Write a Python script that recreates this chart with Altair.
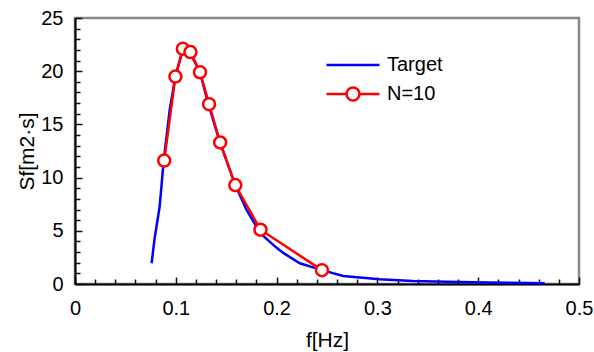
import altair as alt
import pandas as pd

# ---- data ----
target_f = [0.076, 0.079, 0.084, 0.088, 0.094, 0.0996, 0.106, 0.111, 0.117, 0.124,
            0.132, 0.1435, 0.159, 0.170, 0.1835, 0.200, 0.207, 0.223, 0.245, 0.266,
            0.302, 0.335, 0.369, 0.410, 0.450, 0.466]
target_s = [1.95, 4.3, 7.3, 11.6, 16.4, 19.5, 21.7, 22.2, 21.2, 19.9,
            17.0, 13.4, 9.3, 7.0, 4.8, 3.4, 2.9, 1.95, 1.3, 0.75,
            0.44, 0.28, 0.20, 0.15, 0.10, 0.08]

n10_f = [0.0885, 0.0996, 0.107, 0.1145, 0.124, 0.133, 0.144, 0.159, 0.184, 0.245]
n10_s = [11.6, 19.5, 22.1, 21.8, 19.9, 16.9, 13.3, 9.3, 5.1, 1.3]

series_names = ["Target", "N=10"]
series_colors = ["#0000FF", "#FF0000"]

x_major = [0, 0.1, 0.2, 0.3, 0.4, 0.5]
x_minor = [0.02, 0.04, 0.06, 0.08, 0.12, 0.14, 0.16, 0.18, 0.22, 0.24, 0.26, 0.28,
           0.32, 0.34, 0.36, 0.38, 0.42, 0.44, 0.46, 0.48]
y_major = [0, 5, 10, 15, 20, 25]
y_minor = [1, 2, 3, 4, 6, 7, 8, 9, 11, 12, 13, 14, 16, 17, 18, 19, 21, 22, 23, 24]

FONT = "Liberation Sans"

target_df = pd.DataFrame({"f": target_f, "S": target_s, "series": "Target"})
n10_df = pd.DataFrame({"f": n10_f, "S": n10_s, "series": "N=10"})
legend_df = pd.DataFrame({"series": series_names})

xs = alt.Scale(domain=[0, 0.5], nice=False, zero=False)
ys = alt.Scale(domain=[0, 25], nice=False, zero=False)
cs = alt.Scale(domain=series_names, range=series_colors)
shape_paths = [
    "M-4.42,0H4.42",
    "M-4.42,0H-1.08M1.08,0H4.42M1.08,0A1.08,1.08,0,1,1,-1.08,0A1.08,1.08,0,1,1,1.08,0",
]
ss = alt.Scale(domain=series_names, range=shape_paths)

x_axis = alt.Axis(orient="bottom", values=x_major, ticks=False, grid=False,
                  domainColor="black", domainWidth=2, labelFont=FONT,
                  labelFontSize=20, labelColor="black", labelPadding=14,
                  labelFlush=False, labelOverlap=False, format="~g",
                  title="f[Hz]", titleFont=FONT, titleFontSize=21,
                  titleFontWeight="normal", titleColor="black",
                  titleX=252, titleY=56, titleBaseline="middle")
y_axis = alt.Axis(orient="left", values=y_major, ticks=False, grid=False,
                  domainColor="black", domainWidth=2, labelFont=FONT,
                  labelFontSize=20, labelColor="black", labelPadding=12,
                  labelFlush=False, labelOverlap=False, format="~g",
                  title="Sf[m2·s]", titleFont=FONT, titleFontSize=21,
                  titleFontWeight="normal", titleColor="black",
                  titleX=-48, titleY=133, titleAngle=-90, titleBaseline="middle")


def tick_axis(orient, vals, length):
    # inward ticks: an axis shifted into the plot by its own tick length
    return alt.Axis(orient=orient, values=vals, ticks=True, tickSize=length,
                    offset=-length, tickColor="#111111", tickWidth=1.5,
                    domain=False, labels=False, grid=False, title=None)


X = alt.X("f:Q", scale=xs, axis=x_axis)
Y = alt.Y("S:Q", scale=ys, axis=y_axis)

leg = alt.Legend(title=None, orient="none", legendX=268, legendY=37,
                 symbolSize=144, symbolStrokeWidth=2.5, labelFont=FONT,
                 labelFontSize=20, labelColor="black", labelOffset=24,
                 rowPadding=7, padding=0)

color_enc = alt.Color("series:N", scale=cs, legend=leg)

minor_axes = alt.Chart(target_df).mark_point(opacity=0).encode(
    x=alt.X("f:Q", scale=xs, axis=tick_axis("bottom", x_minor, 5)),
    y=alt.Y("S:Q", scale=ys, axis=tick_axis("left", y_minor, 5)))
major_axes = alt.Chart(target_df).mark_point(opacity=0).encode(
    x=alt.X("f:Q", scale=xs, axis=tick_axis("bottom", x_major, 7)),
    y=alt.Y("S:Q", scale=ys, axis=tick_axis("left", y_major, 7)))

target_line = alt.Chart(target_df).mark_line(strokeWidth=2.5).encode(
    x=X, y=Y, color=color_enc)
n10_line = alt.Chart(n10_df).mark_line(strokeWidth=2.5).encode(
    x=X, y=Y, color=color_enc)
n10_pts = alt.Chart(n10_df).mark_point(shape="circle", size=144, strokeWidth=2.5,
                                        filled=False, fill="white", fillOpacity=1,
                                        opacity=1).encode(
    x=X, y=Y, color=color_enc)

legend_layer = alt.Chart(legend_df).mark_point(filled=False, strokeWidth=2.5, opacity=1).encode(
    color=color_enc,
    shape=alt.Shape("series:N", scale=ss, legend=leg),
).transform_filter("false")

main = alt.layer(target_line, n10_line, n10_pts, legend_layer)

chart = alt.layer(
    minor_axes, major_axes, main,
).resolve_axis(x="independent", y="independent").properties(
    width=504, height=266,
    padding={"left": 75, "top": 18, "right": 15, "bottom": 68},
    autosize=alt.AutoSizeParams(type="none"),
    background="white",
).configure_view(stroke="#888888", strokeWidth=2.5)

chart.save("out.html", embed_options={"renderer": "svg", "actions": False})
